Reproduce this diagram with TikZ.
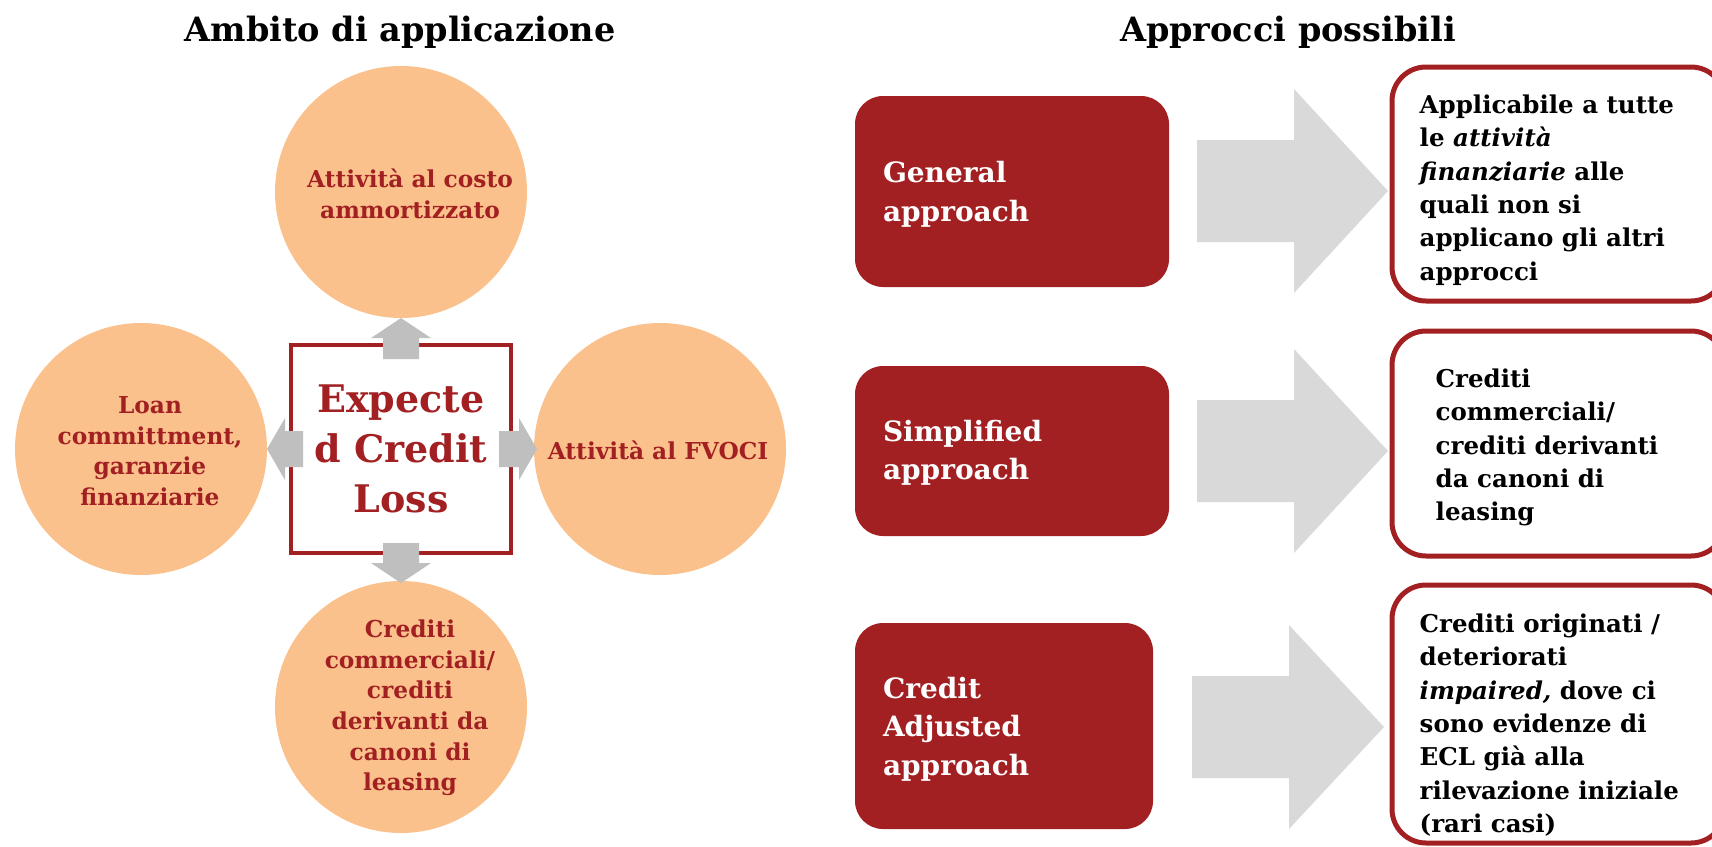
\documentclass[tikz,border=0pt]{standalone}
\usepackage{fontspec}
\setmainfont{DejaVu Serif}
\usetikzlibrary{calc}
\definecolor{ecred}{HTML}{A21F22}
\definecolor{peach}{HTML}{FBC18C}
\definecolor{agray}{HTML}{BFBFBF}
\definecolor{lgray}{HTML}{D9D9D9}
\tikzset{
  circ/.style={circle, fill=peach, minimum size=252pt, inner sep=0pt},
  ctext/.style={text=ecred, font=\bfseries\fontsize{23.3}{30.6}\selectfont, align=center, inner sep=0pt},
  ttl/.style={font=\bfseries\fontsize{33.5}{40}\selectfont, anchor=base, inner sep=0pt},
  abox/.style={fill=ecred, rounded corners=28pt, inner sep=0pt},
  atext/.style={text=white, font=\bfseries\fontsize{28}{38.5}\selectfont, align=left, inner sep=0pt, anchor=west},
  rbox/.style={draw=ecred, line width=5pt, fill=white, rounded corners=34pt, inner sep=0pt, minimum width=333pt},
  rtext/.style={font=\bfseries\fontsize{24.5}{33.4}\selectfont, align=left, inner sep=0pt, anchor=west},
  barrow/.style={fill=agray},
  bigarrow/.style={fill=lgray}
}
\begin{document}
\begin{tikzpicture}[x=1pt,y=-1pt]
\useasboundingbox (0,0) rectangle (1712,846);
% titles
\node[ttl] (t1) at (400,41) {Ambito di applicazione};
\node[ttl] (t2) at (1288,41) {Approcci possibili};
% circles
\node[circ] (ctop) at (401,192) {};
\node[circ] (cleft) at (141,449) {};
\node[circ] (cright) at (660,449) {};
\node[circ] (cbot) at (401,707) {};
\node[ctext] (ltop) at (410,194) {Attività al costo\\ammortizzato};
\node[ctext] (lleft) at (150,451) {Loan\\committment,\\garanzie\\finanziarie};
\node[ctext] (lright) at (658,450) {Attività al FVOCI};
\node[ctext] (lbot) at (410,708) {Crediti\\commerciali/\\crediti\\derivanti da\\canoni di\\leasing};
% central square
\node[draw=ecred, line width=4.5pt, fill=white, minimum width=220pt, minimum height=208pt, inner sep=0pt,
      text=ecred, font=\bfseries\fontsize{38}{50}\selectfont, align=center] (ecl) at (401,449) {Expecte\\d Credit\\Loss};
% small block arrows
\fill[barrow] (383,359) -- (383,338) -- (371,338) -- (401,318) -- (431,338) -- (419,338) -- (419,359) -- cycle;
\fill[barrow] (383,543) -- (383,563) -- (371,563) -- (401,583) -- (431,563) -- (419,563) -- (419,543) -- cycle;
\fill[barrow] (303,431) -- (285,431) -- (285,418) -- (267,449) -- (285,480) -- (285,467) -- (303,467) -- cycle;
\fill[barrow] (499,431) -- (519,431) -- (519,418) -- (537,449) -- (519,480) -- (519,467) -- (499,467) -- cycle;
% approach boxes
\node[abox, minimum width=314pt, minimum height=191pt] (ga) at (1012,191.5) {};
\node[abox, minimum width=314pt, minimum height=170pt] (sa) at (1012,451) {};
\node[abox, minimum width=298pt, minimum height=206pt] (ca) at (1004,726) {};
\node[atext] (gat) at ($(ga.west)+(28,3)$) {General\\approach};
\node[atext] (sat) at ($(sa.west)+(28,2)$) {Simplified\\approach};
\node[atext] (cat) at ($(ca.west)+(28,3)$) {Credit\\Adjusted\\approach};
% big arrows
\fill[bigarrow] (1197,140) -- (1294,140) -- (1294,89) -- (1388,191) -- (1294,293) -- (1294,242) -- (1197,242) -- cycle;
\fill[bigarrow] (1197,400) -- (1294,400) -- (1294,349) -- (1388,451) -- (1294,553) -- (1294,502) -- (1197,502) -- cycle;
\fill[bigarrow] (1192,676) -- (1289,676) -- (1289,625) -- (1384,727) -- (1289,829) -- (1289,778) -- (1192,778) -- cycle;
% description boxes
\node[rbox, minimum height=234pt] (b1) at (1558.5,184) {};
\node[rbox, minimum height=225pt] (b2) at (1558.5,443.5) {};
\node[rbox, minimum height=258pt] (b3) at (1558.5,714) {};
\node[rtext] (b1t) at ($(b1.west)+(30,6)$)
  {Applicabile a tutte\\le \textit{attività}\\\textit{finanziarie} alle\\quali non si\\applicano gli altri\\approcci};
\node[rtext] (b2t) at ($(b2.west)+(46,4)$)
  {Crediti\\commerciali/\\crediti derivanti\\da canoni di\\leasing};
\node[rtext] (b3t) at ($(b3.west)+(30,11)$)
  {Crediti originati /\\deteriorati\\\textit{impaired,} dove ci\\sono evidenze di\\ECL già alla\\rilevazione iniziale\\(rari casi)};
\end{tikzpicture}
\end{document}
